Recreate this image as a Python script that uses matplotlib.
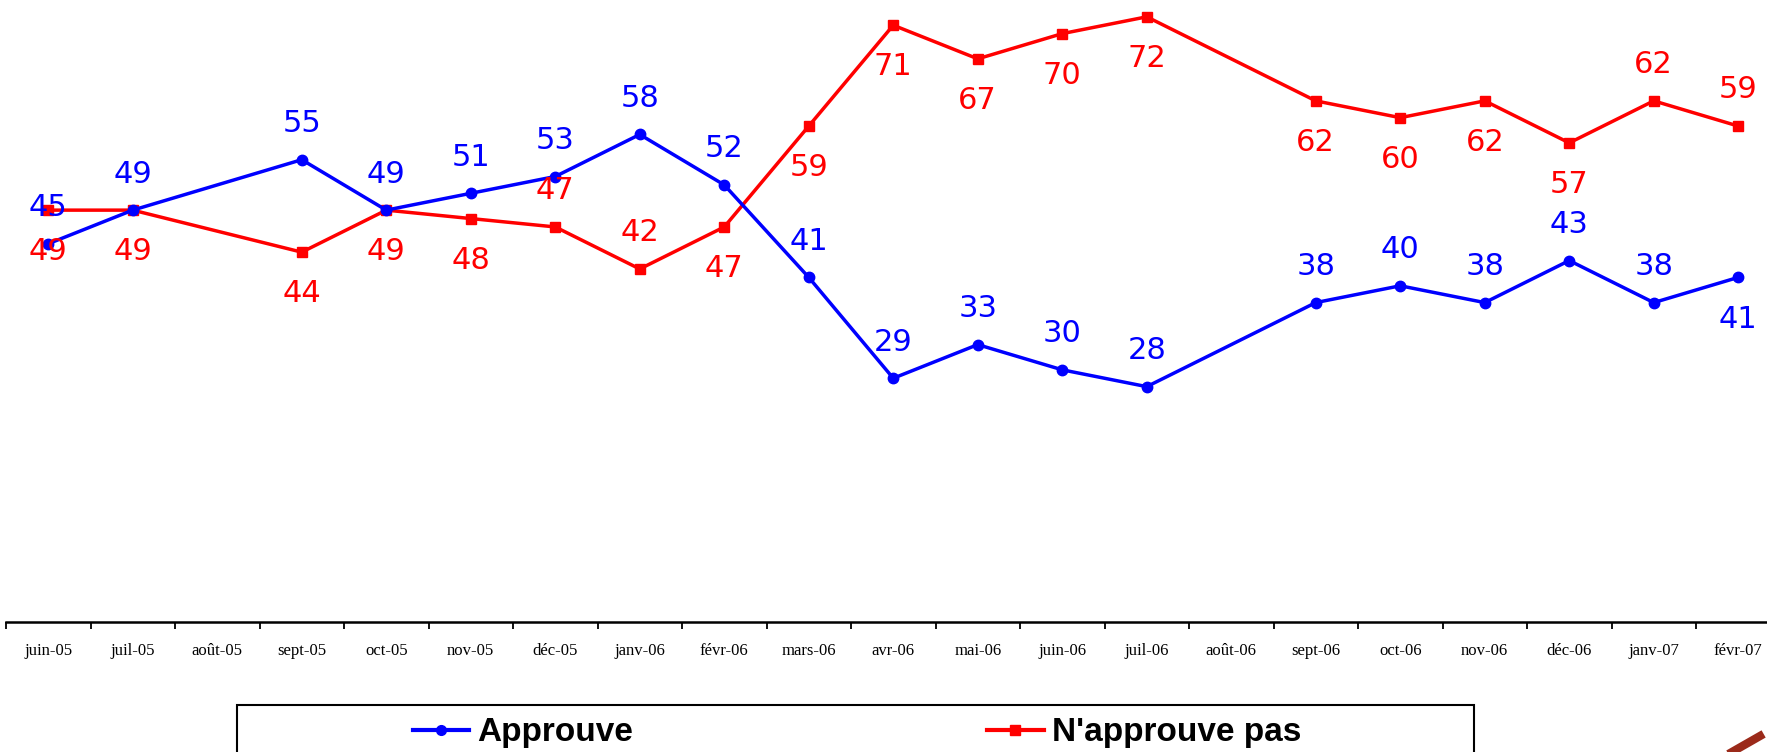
import matplotlib
matplotlib.use("Agg")
from matplotlib import pyplot as plt
from matplotlib.lines import Line2D
from matplotlib.patches import Rectangle
import numpy as np

months = ["juin-05", "juil-05", "août-05", "sept-05", "oct-05", "nov-05", "déc-05",
          "janv-06", "févr-06", "mars-06", "avr-06", "mai-06", "juin-06", "juil-06",
          "août-06", "sept-06", "oct-06", "nov-06", "déc-06", "janv-07", "févr-07"]
approuve = [45, 49, None, 55, 49, 51, 53, 58, 52, 41, 29, 33, 30, 28,
            None, 38, 40, 38, 43, 38, 41]
n_approuve = [49, 49, None, 44, 49, 48, 47, 42, 47, 59, 71, 67, 70, 72,
              None, 62, 60, 62, 57, 62, 59]

# where each value label sits (one per drawn point): a = above, b = below
pos_appr = "aaaaaaaaaaaaaaaaaab"
pos_napp = "bbbbbaabbbbbbbbbbaa"

W, H = 1767, 752
fig = plt.figure(figsize=(W / 100, H / 100), dpi=100)
ax = fig.add_axes([6 / W, 130 / H, 1774.5 / W, 622 / H])

blue = "#0000ff"
red = "#ff0000"


def draw(vals, pos, color, marker, ms):
    idx = [i for i, v in enumerate(vals) if v is not None]
    ys = [vals[i] for i in idx]
    ax.plot(idx, ys, color=color, lw=2.5, marker=marker, ms=ms, clip_on=False, zorder=3)
    for j, (i, v) in enumerate(zip(idx, ys)):
        dy = 26 if pos[j] == "a" else -30
        ax.annotate(str(v), (i, v), xytext=(0, dy), textcoords="offset points",
                    ha="center", va="center", color=color, fontsize=22,
                    family="DejaVu Sans", annotation_clip=False, zorder=4)


draw(n_approuve, pos_napp, red, "s", 7.5)
draw(approuve, pos_appr, blue, "o", 7.5)

ax.set_xlim(-0.5, len(months) - 0.5)
ax.set_ylim(0, 74)
for s in ["top", "left", "right"]:
    ax.spines[s].set_visible(False)
ax.spines["bottom"].set_linewidth(1.8)
ax.set_yticks([])
ax.set_xticks(np.arange(len(months)))
ax.set_xticklabels(months, family="Liberation Serif", fontsize=12)
ax.set_xticks(np.arange(len(months) + 1) - 0.5, minor=True)
ax.tick_params(axis="x", which="major", length=0, pad=15)
ax.tick_params(axis="x", which="minor", length=5, width=1.3, direction="out")

# legend box
fig.patches.append(Rectangle((237 / W, -0.1), (1474 - 237) / W, 0.1 + 47 / H,
                             transform=fig.transFigure, fill=False, ec="black", lw=1.5))
handles = [Line2D([], [], color=blue, lw=3, marker="o", ms=7),
           Line2D([], [], color=red, lw=3, marker="s", ms=7)]
fig.legend(handles, ["Approuve", "N'approuve pas"], loc="center left",
           bbox_to_anchor=(396 / W, 19 / H), ncol=2, frameon=False, borderpad=0,
           handlelength=1.7, handletextpad=0.25, columnspacing=10.6,
           prop={"family": "Liberation Sans", "weight": "bold", "size": 24})

# fragment of a logo in the corner
fig.add_artist(Line2D([1732 / W, 1760 / W], [0, 16 / H], color="#9b2a1a", lw=6,
                      transform=fig.transFigure))

fig.savefig("out.png", dpi=100)
